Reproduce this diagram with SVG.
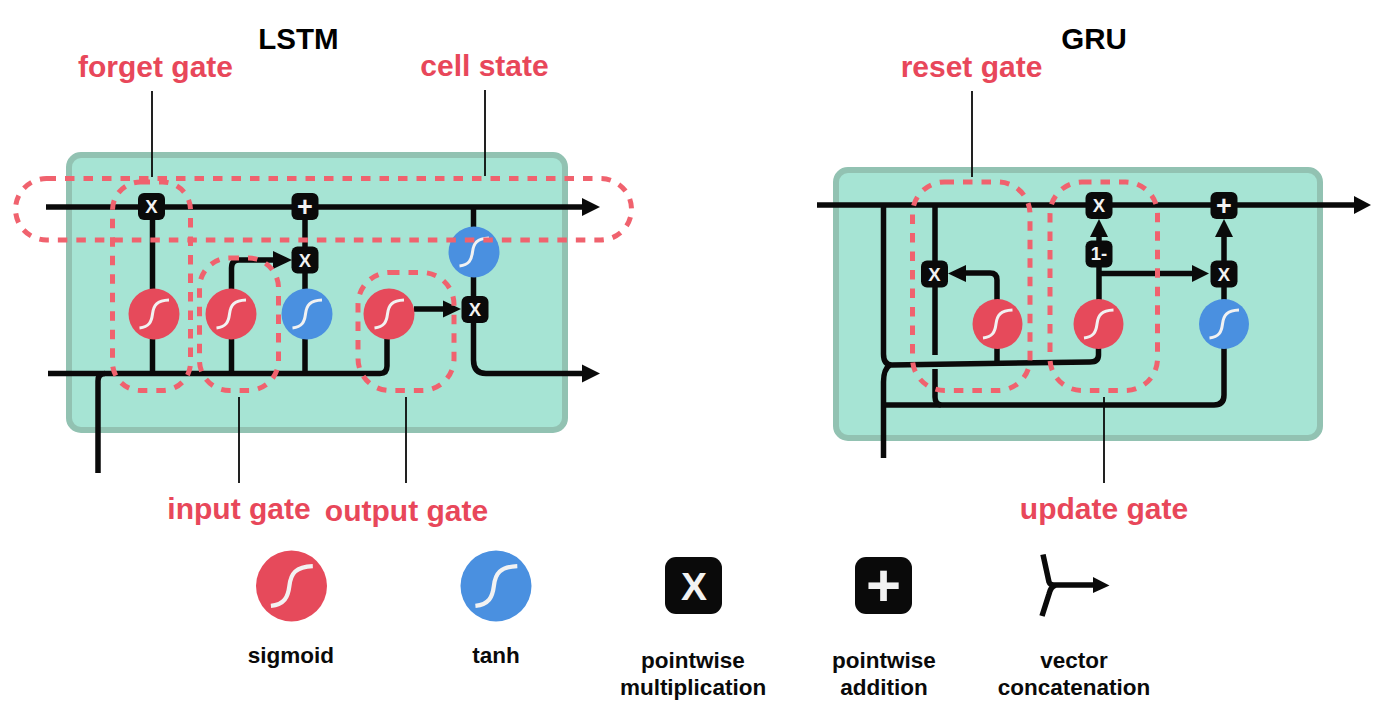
<svg xmlns="http://www.w3.org/2000/svg" xmlns:xlink="http://www.w3.org/1999/xlink" width="1378" height="717" viewBox="0 0 1378 717">
<style>
text{font-family:"Liberation Sans",Arial,sans-serif;font-weight:bold;text-anchor:middle}
.title{font-size:29.500px;fill:#000}
.gate{font-size:30px;fill:#e8475a}
.leg{font-size:22.500px;fill:#0a0a0a}
.cell{fill:#a6e4d4;stroke:#92c2b2;stroke-width:6}
.dash{fill:none;stroke:#f0626e;stroke-width:5;stroke-dasharray:9.500 9}
.line{fill:none;stroke:#0a0a0a;stroke-width:5.500}
.lead{fill:none;stroke:#0a0a0a;stroke-width:1.800}
.head{fill:#0a0a0a}
.box{fill:#0a0a0a}
.op{font-size:18.500px;fill:#f2f2f2}
.plus{font-size:27px;fill:#f2f2f2}
.s{fill:none;stroke:#f2f2f2;stroke-width:3}
.red{fill:#e64a5b}
.blue{fill:#4a90e0}
</style>
<defs>
<path id="sig" class="s" d="M-14.500 14C-5 13-2.500 8-1.500 0C-0.500-9 3-13.500 15-14"/>
<g id="sq"><rect class="box" x="-13.500" y="-13.500" width="27" height="27" rx="6"/></g>
</defs>
<g id="titles">
<text class="title" x="298.500" y="49">LSTM</text>
<text class="title" x="1094" y="49">GRU</text>
</g>
<g id="lstm-cell"><rect class="cell" x="69" y="155" width="496" height="275" rx="12"/></g>
<g id="gru-cell"><rect class="cell" x="836" y="170" width="484" height="268" rx="12"/></g>
<g id="connectors">
<path class="line" d="M46 207H585"/>
<path class="head" d="M582 198L600 207L582 216Z"/>
<path class="line" d="M48 373.500H380Q387 373.500 387 366V335"/>
<path class="line" d="M98 473V381Q98 373.500 105 373.500"/>
<path class="line" d="M152.500 207V373"/>
<path class="line" d="M231.500 373V268Q231.500 260 239 260H280"/>
<path class="head" d="M273 251L292 260L273 269Z"/>
<path class="line" d="M305 207V373"/>
<path class="line" d="M473.500 207V360Q473.500 373.500 486 373.500H585"/>
<path class="head" d="M582 364.500L600 373.500L582 382.500Z"/>
<path class="line" d="M414 309H450"/>
<path class="head" d="M443 300.500L461 309L443 317.500Z"/>
<path class="line" d="M817 205H1356"/>
<path class="head" d="M1354 196L1371 205L1354 214Z"/>
<path class="line" d="M883.500 205V354Q883.500 365 892 365L1090 362Q1098.500 362 1098.500 355V300"/>
<path class="line" d="M883.500 458V382Q883.500 369 890 365"/>
<path class="line" d="M884 405H1214Q1224 405 1224 395V345"/>
<path class="line" d="M935 205V355"/>
<path class="line" d="M935 369V397Q935 404 941 405"/>
<path class="line" d="M997 362V280Q997 273 990 273H960"/>
<path class="head" d="M966 265L948 273.500L966 282Z"/>
<path class="line" d="M1099 300V230"/>
<path class="head" d="M1090 237L1099 219L1108 237Z"/>
<path class="line" d="M1224 300V230"/>
<path class="head" d="M1215 237L1224 219L1233 237Z"/>
<path class="line" d="M1099 273.500H1198"/>
<path class="head" d="M1192 265L1209 273.500L1192 282Z"/>
</g>
<g id="lstm-forget-sigmoid"><circle class="red" cx="154" cy="314" r="25.500"/><use xlink:href="#sig" href="#sig" x="154" y="314"/></g>
<g id="lstm-input-sigmoid"><circle class="red" cx="231" cy="314" r="25.500"/><use xlink:href="#sig" href="#sig" x="231" y="314"/></g>
<g id="lstm-tanh"><circle class="blue" cx="307" cy="314" r="25.500"/><use xlink:href="#sig" href="#sig" x="307" y="314"/></g>
<g id="lstm-output-sigmoid"><circle class="red" cx="389" cy="314" r="25.500"/><use xlink:href="#sig" href="#sig" x="389" y="314"/></g>
<g id="lstm-output-tanh"><circle class="blue" cx="474" cy="252" r="25.500"/><use xlink:href="#sig" href="#sig" x="474" y="252"/></g>
<g id="lstm-x1"><use xlink:href="#sq" href="#sq" x="151.500" y="206.500"/><text class="op" x="151.500" y="213">X</text></g>
<g id="lstm-plus"><use xlink:href="#sq" href="#sq" x="305" y="206.500"/><text class="plus" x="305" y="215.500">+</text></g>
<g id="lstm-x2"><use xlink:href="#sq" href="#sq" x="305" y="260"/><text class="op" x="305" y="266.500">X</text></g>
<g id="lstm-x3"><use xlink:href="#sq" href="#sq" x="475" y="309.500"/><text class="op" x="475" y="316">X</text></g>
<g id="gru-reset-sigmoid"><circle class="red" cx="997.500" cy="324" r="25"/><use xlink:href="#sig" href="#sig" x="997.500" y="324"/></g>
<g id="gru-update-sigmoid"><circle class="red" cx="1098.500" cy="324" r="25"/><use xlink:href="#sig" href="#sig" x="1098.500" y="324"/></g>
<g id="gru-tanh"><circle class="blue" cx="1224" cy="324" r="25"/><use xlink:href="#sig" href="#sig" x="1224" y="324"/></g>
<g id="gru-x1"><use xlink:href="#sq" href="#sq" x="934.500" y="274"/><text class="op" x="934.500" y="280.500">X</text></g>
<g id="gru-x2"><use xlink:href="#sq" href="#sq" x="1099" y="205.500"/><text class="op" x="1099" y="212">X</text></g>
<g id="gru-1minus"><use xlink:href="#sq" href="#sq" x="1099" y="254"/><text class="op" x="1099" y="260">1-</text></g>
<g id="gru-plus"><use xlink:href="#sq" href="#sq" x="1224" y="205.500"/><text class="plus" x="1224" y="214.500">+</text></g>
<g id="gru-x3"><use xlink:href="#sq" href="#sq" x="1224" y="274"/><text class="op" x="1224" y="280.500">X</text></g>
<g id="gates">
<rect id="cell-state-region" class="dash" x="15.500" y="178.500" width="616" height="61.500" rx="31"/>
<rect id="forget-gate-region" class="dash" x="112.500" y="182" width="78" height="208.500" rx="28"/>
<rect id="input-gate-region" class="dash" x="199.500" y="258" width="79" height="132.500" rx="30"/>
<rect id="output-gate-region" class="dash" x="358" y="272.500" width="96" height="118" rx="32"/>
<rect id="reset-gate-region" class="dash" x="912.500" y="182" width="117.500" height="208.500" rx="32"/>
<rect id="update-gate-region" class="dash" x="1050" y="182" width="107.500" height="208.500" rx="32"/>
</g>
<g id="leaders">
<path class="lead" d="M152 91V177"/>
<path class="lead" d="M485 90V176"/>
<path class="lead" d="M239 397V483"/>
<path class="lead" d="M406 397V483"/>
<path class="lead" d="M972 91V177"/>
<path class="lead" d="M1104 397V483"/>
</g>
<g id="gate-labels">
<text class="gate" x="155.500" y="77">forget gate</text>
<text class="gate" x="484.500" y="76">cell state</text>
<text class="gate" x="239" y="519">input gate</text>
<text class="gate" x="406.500" y="521">output gate</text>
<text class="gate" x="971.500" y="77">reset gate</text>
<text class="gate" x="1104" y="519">update gate</text>
</g>
<g id="legend-sigmoid"><circle class="red" cx="291.500" cy="586" r="35.500"/><use xlink:href="#sig" href="#sig" transform="translate(291.500 586) scale(1.42)"/><text class="leg" x="291" y="663">sigmoid</text></g>
<g id="legend-tanh"><circle class="blue" cx="496" cy="586" r="35.500"/><use xlink:href="#sig" href="#sig" transform="translate(496 586) scale(1.42)"/><text class="leg" x="496" y="663">tanh</text></g>
<g id="legend-multiply"><rect class="box" x="665" y="557" width="57" height="57" rx="11"/><text x="694" y="600" style="font-size:39px;fill:#f2f2f2">X</text><text class="leg" x="693" y="668">pointwise</text><text class="leg" x="693" y="695">multiplication</text></g>
<g id="legend-add"><rect class="box" x="855" y="557" width="57" height="57" rx="11"/><text x="883.500" y="606" style="font-size:60px;fill:#f2f2f2">+</text><text class="leg" x="884" y="668">pointwise</text><text class="leg" x="884" y="695">addition</text></g>
<g id="legend-concat"><path class="line" d="M1043 554.500L1049 582Q1050 585 1054 585H1098M1042 616L1049 594Q1051 586 1056 585"/><path class="head" d="M1093 577L1109.500 585.500L1093 593Z"/><text class="leg" x="1074" y="668">vector</text><text class="leg" x="1074" y="695">concatenation</text></g>
</svg>
